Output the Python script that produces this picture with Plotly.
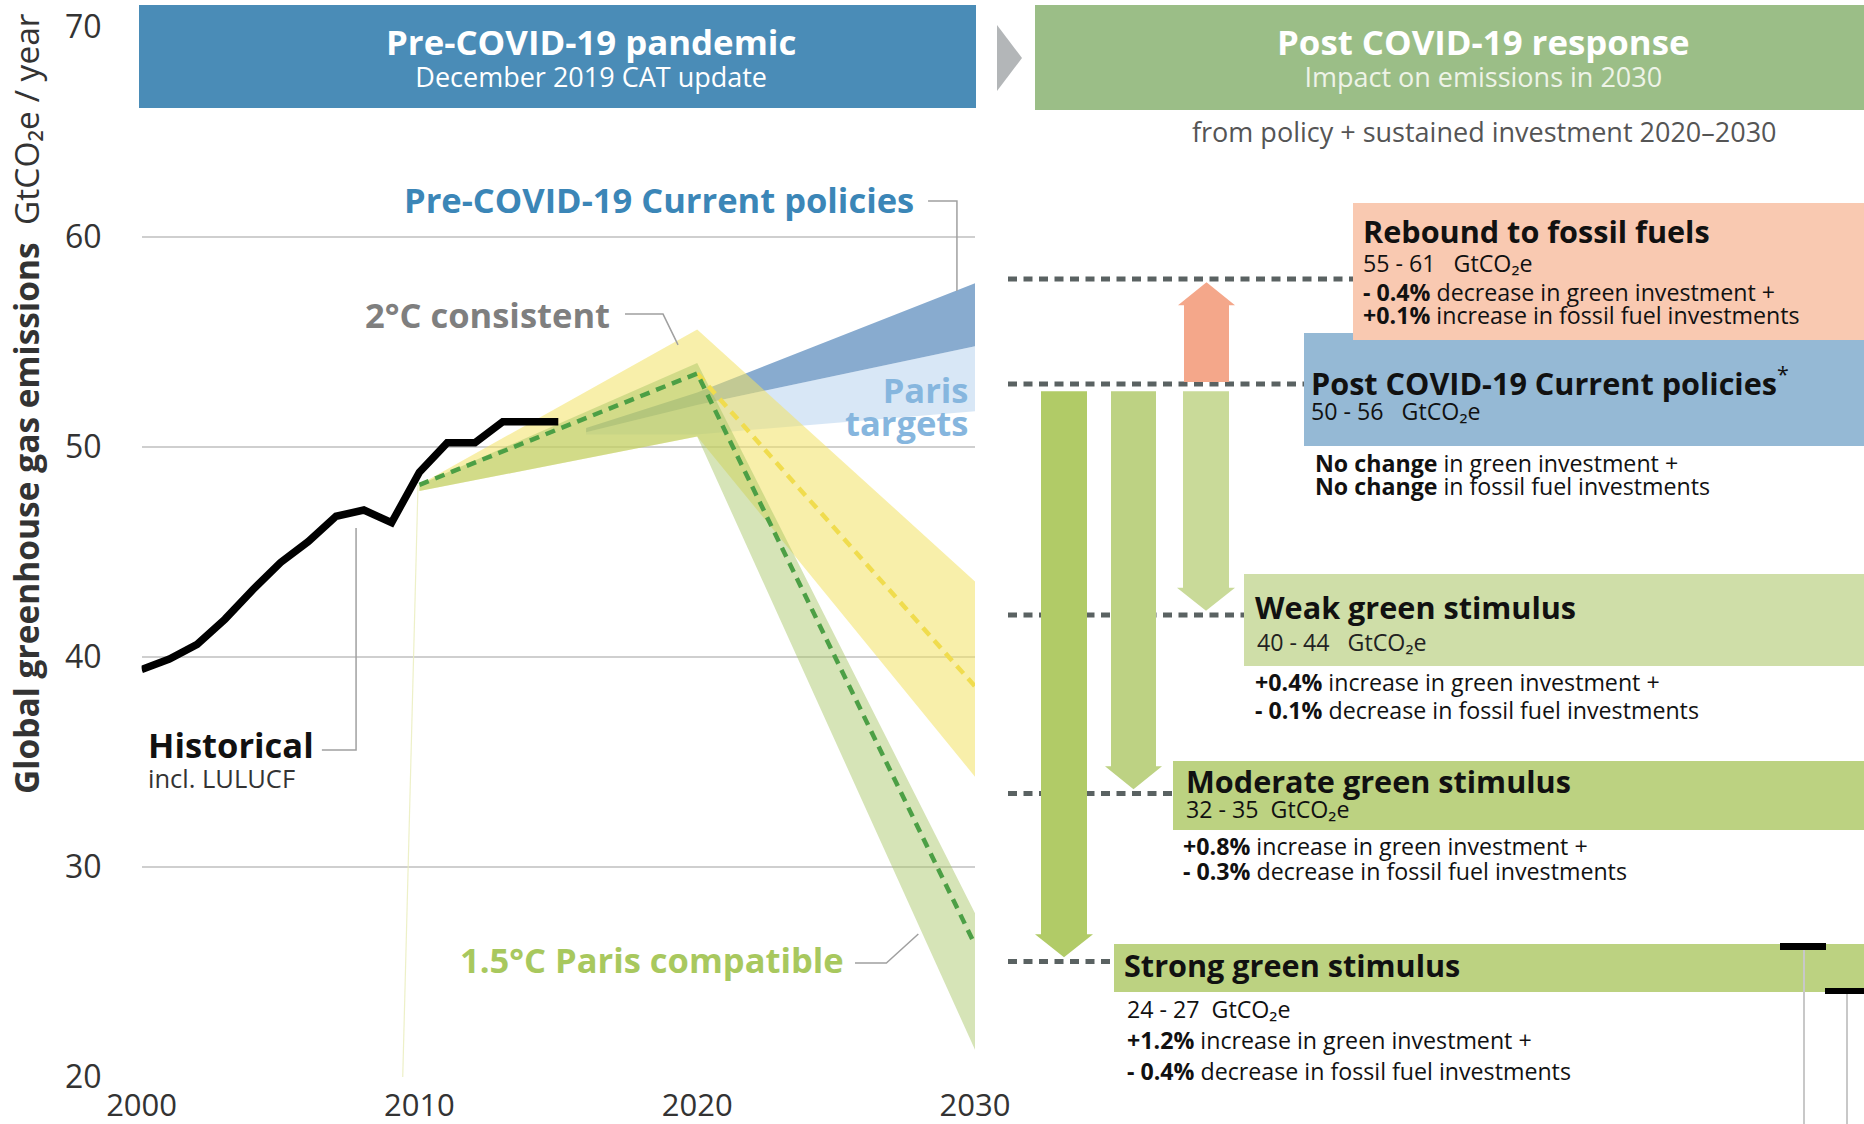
import plotly.graph_objects as go

W, H = 1864, 1124
FONT = "Open Sans"

# ---------------- data ----------------
hist_years = list(range(2000, 2016))
hist_values = [39.4, 39.9, 40.6, 41.8, 43.2, 44.5, 45.5, 46.7, 47.0, 46.4,
               48.8, 50.2, 50.2, 51.2, 51.2, 51.2]

fan_years = [2010, 2020, 2030]
two_deg_upper = [48.2, 55.6, 43.6]
two_deg_lower = [47.9, 50.5, 34.3]
two_deg_median_years = [2020, 2030]
two_deg_median = [53.5, 38.6]
one5_upper = [48.2, 54.0, 27.8]
one5_lower = [47.9, 50.5, 21.3]
one5_median = [48.2, 53.5, 26.3]

cp_years = [2016, 2020, 2030]
cp_upper = [50.9, 52.6, 57.8]
cp_lower = [50.7, 52.0, 54.8]
paris_upper = [50.7, 52.0, 54.8]
paris_lower = [50.6, 50.6, 51.7]

artifact_years = [2009.4, 2009.95]
artifact_values = [20, 48.2]

y_ticks = [20, 30, 40, 50, 60, 70]
x_ticks = [2000, 2010, 2020, 2030]

scen_names = ["Rebound to fossil fuels", "Post COVID-19 Current policies",
              "Weak green stimulus", "Moderate green stimulus", "Strong green stimulus"]
scen_low = [55, 50, 40, 32, 24]
scen_high = [61, 56, 44, 35, 27]
scen_green = ["<b>- 0.4%</b> decrease in green investment +",
              "<b>No change</b> in green investment +",
              "<b>+0.4%</b> increase in green investment +",
              "<b>+0.8%</b> increase in green investment +",
              "<b>+1.2%</b> increase in green investment +"]
scen_fossil = ["<b>+0.1%</b> increase in fossil fuel investments",
               "<b>No change</b> in fossil fuel investments",
               "<b>- 0.1%</b> decrease in fossil fuel investments",
               "<b>- 0.3%</b> decrease in fossil fuel investments",
               "<b>- 0.4%</b> decrease in fossil fuel investments"]
scen_mid = [(a + b) / 2 for a, b in zip(scen_low, scen_high)]

# ---------------- layout constants (pixels) ----------------
X_L, X_R = 141.6, 975.0      # left chart plot area
Y_BOT = 1077.0               # y=20 line
PX_PER_UNIT = 21.0
Y_TOP_VAL = 20 + Y_BOT / PX_PER_UNIT

box_x0 = [1353, 1304, 1244, 1173, 1114]
box_y = [(203, 340), (333, 446), (574, 666), (761, 830), (944, 992)]
box_col = ["#f9c9b1", "#95b9d5", "#cfdea8", "#bcd281", "#bcd281"]
dash_x0 = 1008

arrow_shaft = {"Strong green stimulus": (1041, 1087, "#b1cb67"),
               "Moderate green stimulus": (1111, 1156, "#bdd283"),
               "Weak green stimulus": (1183, 1229, "#c9da99")}
rebound_arrow = (1184, 1229, "#f4a78a")

TITLE_SIZE, BODY_SIZE, LABEL_SIZE = 30.6, 23.2, 34.5

fig = go.Figure()


def px(x):
    return x / W


def py(y):
    return 1 - y / H


# ---------------- left chart traces ----------------
def band(xs, up, lo, color):
    fig.add_trace(go.Scatter(x=xs + xs[::-1], y=up + lo[::-1], fill="toself",
                             fillcolor=color, line=dict(width=0), mode="lines",
                             hoverinfo="skip", showlegend=False))


fig.add_trace(go.Scatter(x=artifact_years, y=artifact_values, mode="lines",
                         line=dict(color="rgba(232,236,185,0.8)", width=1.2),
                         hoverinfo="skip", showlegend=False))
band(cp_years, paris_upper, paris_lower, "rgba(150,190,230,0.37)")
band(cp_years, cp_upper, cp_lower, "rgba(95,142,190,0.74)")
band(fan_years, two_deg_upper, two_deg_lower, "rgba(242,226,100,0.55)")
band(fan_years, one5_upper, one5_lower, "rgba(165,195,95,0.45)")

fig.add_trace(go.Scatter(x=two_deg_median_years, y=two_deg_median, mode="lines",
                         line=dict(color="#f0dc4e", width=4.5, dash="10px,7px"),
                         hoverinfo="skip", showlegend=False))
fig.add_trace(go.Scatter(x=fan_years, y=one5_median, mode="lines",
                         line=dict(color="#4c9f45", width=4.5, dash="10px,7px"),
                         hoverinfo="skip", showlegend=False))
fig.add_trace(go.Scatter(x=hist_years, y=hist_values, mode="lines",
                         line=dict(color="#000000", width=7.5),
                         hoverinfo="skip", showlegend=False))
# anchor trace for the right-hand panel
fig.add_trace(go.Scatter(x=[1500], y=[30], mode="markers", marker=dict(opacity=0),
                         xaxis="x2", yaxis="y2", hoverinfo="skip", showlegend=False))

shapes = []

# leader lines (data coords of the left chart)
leaders = [
    [(2028.31, 61.71), (2029.35, 61.71), (2029.35, 57.43)],
    [(2017.40, 56.33), (2018.77, 56.33), (2019.31, 54.86)],
    [(2006.49, 35.57), (2007.72, 35.57), (2007.72, 46.14)],
    [(2025.68, 25.43), (2026.81, 25.43), (2027.96, 26.81)],
]
for pts in leaders:
    path = "M " + " L ".join(f"{x},{y}" for x, y in pts)
    shapes.append(dict(type="path", xref="x", yref="y", path=path,
                       line=dict(color="#a0a0a0", width=1.5)))

# ---------------- headers ----------------
shapes.append(dict(type="rect", xref="paper", yref="paper", x0=px(139), x1=px(976),
                   y0=py(108), y1=py(5), fillcolor="#4a8cb7", line=dict(width=0)))
shapes.append(dict(type="rect", xref="paper", yref="paper", x0=px(1035), x1=px(1870),
                   y0=py(110), y1=py(5), fillcolor="#9bbe87", line=dict(width=0)))
shapes.append(dict(type="path", xref="paper", yref="paper",
                   path=f"M {px(997)},{py(25)} L {px(1022)},{py(58)} L {px(997)},{py(91)} Z",
                   fillcolor="#b3b6b8", line=dict(width=0)))

# ---------------- right panel boxes ----------------
for i in [1, 0, 2, 3, 4]:
    y0, y1 = box_y[i]
    shapes.append(dict(type="rect", xref="paper", yref="paper", x0=px(box_x0[i]), x1=px(1870),
                       y0=py(y1), y1=py(y0), fillcolor=box_col[i], line=dict(width=0),
                       layer="below"))

# dashed level lines (right panel axis: x2 in pixel units, y2 = emissions)
for i in range(5):
    shapes.append(dict(type="line", xref="x2", yref="y2", x0=dash_x0, x1=box_x0[i],
                       y0=scen_mid[i], y1=scen_mid[i],
                       line=dict(color="#5a6262", width=5, dash="9px,6.5px")))

# arrows from current-policies level to each scenario
base = scen_mid[1]
head_len = 1.1
for i in [4, 3, 2]:
    xa, xb, col = arrow_shaft[scen_names[i]]
    top = base - 0.35
    tip = scen_mid[i] + 0.2
    neck = tip + head_len
    xm = (xa + xb) / 2
    path = (f"M {xa},{top} L {xb},{top} L {xb},{neck} L {xb + 6},{neck} "
            f"L {xm},{tip} L {xa - 6},{neck} L {xa},{neck} Z")
    shapes.append(dict(type="path", xref="x2", yref="y2", path=path,
                       fillcolor=col, line=dict(width=0)))
xa, xb, col = rebound_arrow
bottom = base + 0.1
tip = scen_mid[0] - 0.15
neck = tip - head_len
xm = (xa + xb) / 2
shapes.append(dict(type="path", xref="x2", yref="y2",
                   path=(f"M {xa},{bottom} L {xb},{bottom} L {xb},{neck} L {xb + 6},{neck} "
                         f"L {xm},{tip} L {xa - 6},{neck} L {xa},{neck} Z"),
                   fillcolor=col, line=dict(width=0)))

# cropped bits at the bottom right
for (bx0, bx1, by0, by1, lx, ly) in [(1780, 1826, 943, 950, 1804, 950),
                                     (1825, 1866, 988, 994, 1847, 994)]:
    shapes.append(dict(type="line", xref="paper", yref="paper", x0=px(lx), x1=px(lx),
                       y0=py(ly), y1=py(1124), line=dict(color="#c8c8c8", width=2)))
    shapes.append(dict(type="rect", xref="paper", yref="paper", x0=px(bx0), x1=px(bx1),
                       y0=py(by1), y1=py(by0), fillcolor="#000000", line=dict(width=0)))

fig.update_layout(shapes=shapes)


# ---------------- annotations ----------------
def block(x, y_first, lines, sizes, gap, color="#111111", xanchor="left",
          align="left", colors=None, angle=0):
    """Multi-line text: each line in its own size, lines `gap` px apart."""
    parts = []
    for k, (t, s) in enumerate(zip(lines, sizes)):
        st = f"font-size:{s}px"
        if colors is not None:
            st += f";color:{colors[k]}"
        parts.append(f"<span style='{st}'>{t}</span>")
    text = "<br>".join(parts)
    yc = y_first + gap * (len(lines) - 1) / 2
    base_size = gap / 1.3 if len(lines) > 1 else sizes[0]
    fig.add_annotation(x=px(x), y=py(yc), xref="paper", yref="paper", text=text,
                       showarrow=False, xanchor=xanchor, yanchor="middle", align=align,
                       textangle=angle, borderpad=0,
                       font=dict(size=base_size, color=color, family=FONT))


# headers
block(591, 41, ["<b>Pre-COVID-19 pandemic</b>", "December 2019 CAT update"], [34.8, 27], 32,
      color="#ffffff", xanchor="center", align="center")
block(1483, 41, ["<b>Post COVID-19 response</b>", "Impact on emissions in 2030"], [34.8, 27], 32,
      color="#ffffff", xanchor="center", align="center", colors=["#ffffff", "#eef3e7"])
block(1484, 131, ["from policy + sustained investment 2020–2030"], [27], 0,
      color="#555555", xanchor="center", align="center")

# y-axis title
block(26, 404, ["<b>Global greenhouse gas emissions</b>  GtCO₂e / year"], [33.5], 0,
      color="#333333", xanchor="center", align="center", angle=-90)

# left chart labels (positions in the reference picture's pixels)
block(915, 200, ["<b>Pre-COVID-19 Current policies</b>"], [LABEL_SIZE], 0,
      color="#3b86b7", xanchor="right", align="right")
block(611, 314, ["<b>2°C consistent</b>"], [LABEL_SIZE], 0,
      color="#7f7f7f", xanchor="right", align="right")
block(969, 390, ["<b>Paris</b>", "<b>targets</b>"], [LABEL_SIZE, LABEL_SIZE], 33,
      color="#86b6de", xanchor="right", align="right")
block(147, 743, ["<b>Historical</b>", "incl. LULUCF"], [LABEL_SIZE, 25.5], 30,
      colors=["#111111", "#333333"])
block(845, 959, ["<b>1.5°C Paris compatible</b>"], [LABEL_SIZE], 0,
      color="#a8c85e", xanchor="right", align="right")

# right panel scenario texts
rng = [f"{scen_low[i]} - {scen_high[i]}{'   ' if i < 3 else '  '}GtCO₂e" for i in range(5)]
ttl = [f"<b>{scen_names[i]}</b>" + ("<sup>*</sup>" if i == 1 else "") for i in range(5)]

# Rebound to fossil fuels
block(1362, 230, [ttl[0], rng[0]], [TITLE_SIZE, BODY_SIZE], 28.5)
block(1362, 292, [scen_green[0], scen_fossil[0]], [BODY_SIZE, BODY_SIZE], 23)
# Post COVID-19 current policies
block(1310, 381, [ttl[1], rng[1]], [TITLE_SIZE, BODY_SIZE], 25)
block(1314, 463, [scen_green[1], scen_fossil[1]], [BODY_SIZE, BODY_SIZE], 23)
# Weak green stimulus
block(1254, 607, [ttl[2]], [TITLE_SIZE], 0)
block(1256, 642, [rng[2]], [BODY_SIZE], 0, color="#222222")
block(1254, 682, [scen_green[2], scen_fossil[2]], [BODY_SIZE, BODY_SIZE], 28)
# Moderate green stimulus
block(1185, 780, [ttl[3], rng[3]], [TITLE_SIZE, BODY_SIZE], 24.5)
block(1182, 846, [scen_green[3], scen_fossil[3]], [BODY_SIZE, BODY_SIZE], 25)
# Strong green stimulus
block(1123, 965, [ttl[4]], [TITLE_SIZE], 0)
block(1126, 1009, [rng[4], scen_green[4], scen_fossil[4]], [BODY_SIZE] * 3, 31)

# ---------------- axes ----------------
fig.update_layout(
    width=W, height=H,
    margin=dict(l=0, r=0, t=0, b=0, pad=0, autoexpand=False),
    paper_bgcolor="white", plot_bgcolor="white",
    showlegend=False,
    font=dict(family=FONT, color="#333333"),
    xaxis=dict(domain=[X_L / W, X_R / W], range=[2000, 2030], tickvals=x_ticks,
               showgrid=False, zeroline=False, showline=False, ticks="",
               tickfont=dict(size=31, color="#333333", family=FONT),
               ticklabelstandoff=7, anchor="y", fixedrange=True, automargin=False),
    yaxis=dict(domain=[1 - Y_BOT / H, 1], range=[20, Y_TOP_VAL], tickvals=y_ticks,
               showgrid=True, gridcolor="#cfcfcf", gridwidth=2, zeroline=False,
               showline=False, ticks="", ticklabelstandoff=39,
               tickfont=dict(size=32, color="#333333", family=FONT),
               anchor="x", fixedrange=True, automargin=False),
    xaxis2=dict(domain=[990 / W, 1], range=[990, 1864], visible=False, anchor="y2",
                fixedrange=True),
    yaxis2=dict(domain=[1 - Y_BOT / H, 1], range=[20, Y_TOP_VAL], visible=False,
                anchor="x2", fixedrange=True),
)

fig.write_html("out.html", config={"displayModeBar": False},
               post_script="document.body.style.margin='0px';document.body.style.overflow='hidden';")
